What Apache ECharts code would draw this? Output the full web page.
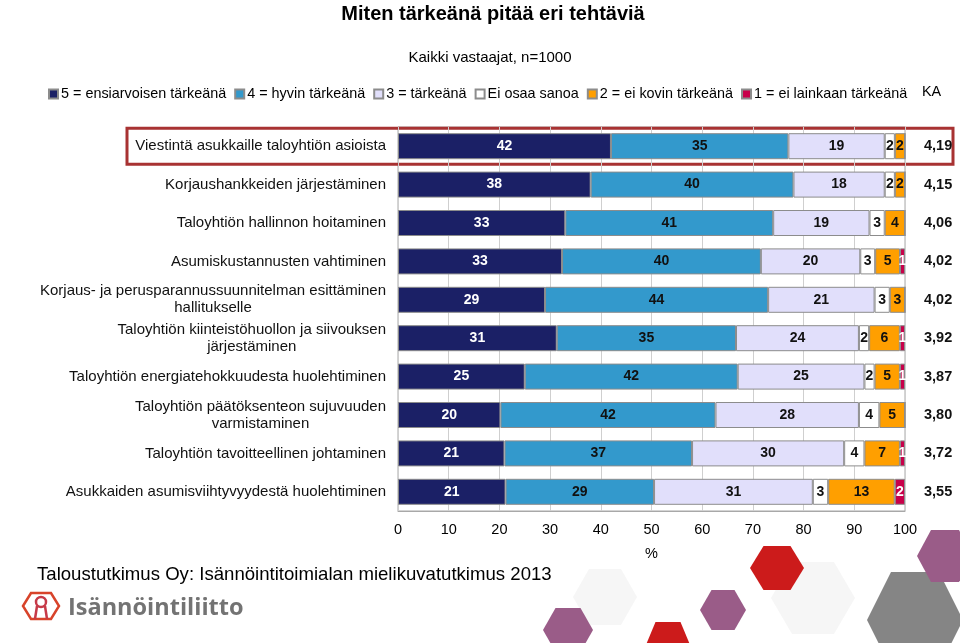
<!DOCTYPE html>
<html><head><meta charset="utf-8">
<script src="https://cdn.jsdelivr.net/npm/echarts@6/dist/echarts.min.js"></script>
<style>html,body{margin:0;padding:0;background:#fff}#c{width:960px;height:643px}</style>
</head><body><div id="c"></div>
<script>
const categories = [
  'Viestintä asukkaille taloyhtiön asioista',
  'Korjaushankkeiden järjestäminen',
  'Taloyhtiön hallinnon hoitaminen',
  'Asumiskustannusten vahtiminen',
  'Korjaus- ja perusparannussuunnitelman esittäminen\nhallitukselle',
  'Taloyhtiön kiinteistöhuollon ja siivouksen\njärjestäminen',
  'Taloyhtiön energiatehokkuudesta huolehtiminen',
  'Taloyhtiön päätöksenteon sujuvuuden\nvarmistaminen',
  'Taloyhtiön tavoitteellinen johtaminen',
  'Asukkaiden asumisviihtyvyydestä huolehtiminen'
];
const kaLabels = ['4,19','4,15','4,06','4,02','4,02','3,92','3,87','3,80','3,72','3,55'];
const seriesNames = ['5 = ensiarvoisen tärkeänä','4 = hyvin tärkeänä','3 = tärkeänä','Ei osaa sanoa','2 = ei kovin tärkeänä','1 = ei lainkaan tärkeänä'];
const s5  = [42,38,33,33,29,31,25,20,21,21];
const s4  = [35,40,41,40,44,35,42,42,37,29];
const s3  = [19,18,19,20,21,24,25,28,30,31];
const sEO = [2,2,3,3,3,2,2,4,4,3];
const s2  = [2,2,4,5,3,6,5,5,7,13];
const s1  = [0,0,0,1,0,1,1,0,1,2];
const xTicks = [0,10,20,30,40,50,60,70,80,90,100];

const allSeries = [s5,s4,s3,sEO,s2,s1];
const colors = ['#1b2066','#3399cc','#e1dffb','#ffffff','#ff9f00','#c8004a'];
const labelColors = ['#fff','#111','#111','#111','#111','#fff'];
const totals = categories.map((c,i)=>allSeries.reduce((a,s)=>a+s[i],0));

const chart = echarts.init(document.getElementById('c'), null, {renderer:'canvas'});
const FONT = 'Liberation Sans, Arial, sans-serif';

function hex(cx, cy, a, h, color, opacity){
  return {type:'polygon', silent:true, z:-10,
    shape:{points:[[cx-a,cy],[cx-a/2,cy-h],[cx+a/2,cy-h],[cx+a,cy],[cx+a/2,cy+h],[cx-a/2,cy+h]]},
    style:{fill:color, opacity:opacity}};
}

const option = {
  backgroundColor:'#fff',
  animation:false,
  textStyle:{fontFamily:FONT},
  title:[
    {text:'Miten tärkeänä pitää eri tehtäviä', left:488, top:-1, textAlign:'center',
     textStyle:{fontFamily:'Liberation Sans Narrow, Arial Narrow, sans-serif', fontWeight:'bold', fontSize:20, color:'#000'}},
    {text:'Kaikki vastaajat, n=1000', left:485, top:45, textAlign:'center',
     textStyle:{fontFamily:'Liberation Sans Narrow, Arial Narrow, sans-serif', fontWeight:'normal', fontSize:15, color:'#000'}}
  ],
  legend:{
    left:43, top:82, itemWidth:9, itemHeight:9, itemGap:8, icon:'rect',
    textStyle:{fontSize:14.4, color:'#000', fontFamily:FONT, padding:[0,0,0,-2]},
    data:seriesNames
  },
  grid:{left:398, right:55, top:127, bottom:132, show:true, borderColor:'#a8a8a8', borderWidth:1},
  xAxis:{
    type:'value', min:xTicks[0], max:xTicks[xTicks.length-1], interval:10,
    axisLine:{show:true, lineStyle:{color:'#a8a8a8'}}, axisTick:{show:false},
    splitLine:{show:true, lineStyle:{color:'#cfcfcf'}},
    axisLabel:{fontSize:14.5, color:'#000', margin:11, fontFamily:FONT},
    name:'%', nameLocation:'middle', nameGap:35,
    nameTextStyle:{fontSize:14.5, color:'#000', fontFamily:FONT}
  },
  yAxis:[
    {type:'category', data:categories, inverse:true,
     axisLine:{show:false}, axisTick:{show:false}, splitLine:{show:false},
     axisLabel:{margin:12, align:'right', fontSize:15, color:'#111', lineHeight:17, fontFamily:FONT,
       formatter:v=>'{c|'+v+'}',
       rich:{c:{align:'center', fontSize:15, color:'#111', lineHeight:17, fontFamily:FONT}}}},
    {type:'category', data:kaLabels, inverse:true, position:'right',
     axisLine:{show:false}, axisTick:{show:false}, splitLine:{show:false},
     axisLabel:{margin:19, fontSize:14.5, fontWeight:'bold', color:'#111', fontFamily:FONT}}
  ],
  series: allSeries.map((arr,k)=>({
    name:seriesNames[k], type:'bar', stack:'total', yAxisIndex:0, barWidth:26,
    itemStyle:{color:colors[k], borderColor:'#8c8c8c', borderWidth:1},
    label:{show:true, position:'inside', color:labelColors[k], fontWeight:'bold', fontSize:14, fontFamily:FONT,
      formatter:p=>p.data.raw ? String(p.data.raw) : ''},
    data: arr.map((v,i)=>({value: v/totals[i]*100, raw:v}))
  })),
  graphic:[
    {type:'text', left:922, top:85, style:{text:'KA', fontSize:14.4, fill:'#000', fontFamily:FONT}},
    {type:'text', left:37, top:565, style:{text:'Taloustutkimus Oy: Isännöintitoimialan mielikuvatutkimus 2013', fontSize:18.6, fill:'#000', fontFamily:FONT}},
    {type:'polygon', silent:true,
     shape:{points:[[23,606],[31,593],[51,593],[59,606],[51,619],[31,619]]},
     style:{fill:'none', stroke:'#d8432a', lineWidth:2.5}},
    {type:'circle', silent:true, shape:{cx:41, cy:602, r:5}, style:{fill:'none', stroke:'#c63a48', lineWidth:2.5}},
    {type:'polyline', silent:true, shape:{points:[[37,606],[35,619]]}, style:{stroke:'#c63a48', lineWidth:2.5}},
    {type:'polyline', silent:true, shape:{points:[[45,606],[47,619]]}, style:{stroke:'#c63a48', lineWidth:2.5}},
    {type:'text', left:68, top:596, style:{text:'Isännöintiliitto', fontSize:23.5, fontWeight:'bold', fill:'#737373', fontFamily:'Open Sans, sans-serif'}},
    hex(605,597,32,28,'#ececec',0.45),
    hex(813,598,42,36,'#ececec',0.45),
    hex(777,568,27,22,'#cc1b1b',1),
    hex(723,610,23,20,'#9a5c88',1),
    hex(668,652,25,30,'#cc1b1b',1),
    hex(568,630,25,22,'#9a5c88',1),
    hex(915,620,48,48,'#858585',1),
    hex(945,556,28,26,'#9a5c88',1)
  ]
};
chart.setOption(option);
const cy = chart.convertToPixel({yAxisIndex:0}, categories[0]);
chart.setOption({graphic: option.graphic.concat([
  {type:'rect', silent:true, shape:{x:127, y:cy-18, width:826, height:36},
   style:{fill:'none', stroke:'#a83232', lineWidth:3}}
])});
</script></body></html>
